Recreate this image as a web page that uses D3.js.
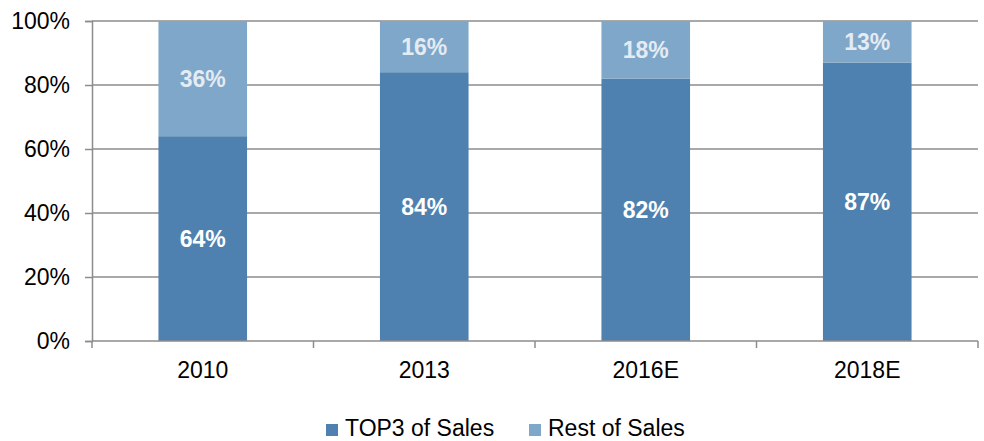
<!DOCTYPE html>
<html>
<head>
<meta charset="utf-8">
<script src="https://cdn.jsdelivr.net/npm/d3@7"></script>
<style>
  body { margin: 0; background: #fff; }
  text { font-family: "Liberation Sans", Arial, sans-serif; }
</style>
</head>
<body>
<div id="chart-area"></div>
<script>
const years = ["2010", "2013", "2016E", "2018E"];
const top3 = [64, 84, 82, 87];
const rest = [36, 16, 18, 13];
const yTicks = [0, 20, 40, 60, 80, 100];
const seriesNames = ["TOP3 of Sales", "Rest of Sales"];
const seriesColors = ["#4e81b0", "#7fa7c9"];

const W = 984, H = 441;
const MARGIN = { LEFT: 92, RIGHT: 6, TOP: 21, BOTTOM: 100 };
const WIDTH = W - MARGIN.LEFT - MARGIN.RIGHT;
const HEIGHT = H - MARGIN.TOP - MARGIN.BOTTOM;
const FONT = "23px";

const svg = d3.select("#chart-area").append("svg")
  .attr("width", W)
  .attr("height", H);

const g = svg.append("g")
  .attr("transform", `translate(${MARGIN.LEFT}, ${MARGIN.TOP})`);

const x = d3.scaleBand()
  .domain(years)
  .range([0, WIDTH])
  .paddingInner(0.6)
  .paddingOuter(0.3);

const y = d3.scaleLinear()
  .domain([0, 100])
  .range([HEIGHT, 0]);

// gridlines
g.append("g").selectAll("line").data(yTicks.filter(d => d > 0)).enter().append("line")
  .attr("x1", 0).attr("x2", WIDTH)
  .attr("y1", d => y(d)).attr("y2", d => y(d))
  .attr("stroke", "#8c8c8c")
  .attr("stroke-width", 1.5);

// y axis
const yAxisCall = d3.axisLeft(y)
  .tickValues(yTicks)
  .tickSize(7)
  .tickPadding(15)
  .tickFormat(d => d + "%");
const yAxis = g.append("g").call(yAxisCall);
yAxis.select(".domain").attr("stroke", "#8c8c8c").attr("stroke-width", 1.5);
yAxis.selectAll(".tick line").attr("stroke", "#8c8c8c").attr("stroke-width", 1.5);
yAxis.selectAll(".tick text")
  .attr("font-size", FONT)
  .attr("fill", "#000")
  .attr("font-family", "Liberation Sans, Arial, sans-serif");

// stacked data
const rows = years.map((yr, i) => ({ year: yr, top3: top3[i], rest: rest[i] }));
const stack = d3.stack().keys(["top3", "rest"])(rows);

const layers = g.selectAll(".layer").data(stack).enter().append("g")
  .attr("class", "layer")
  .attr("fill", (d, i) => seriesColors[i]);

layers.selectAll("rect").data(d => d).enter().append("rect")
  .attr("x", d => x(d.data.year))
  .attr("y", d => y(d[1]))
  .attr("width", x.bandwidth())
  .attr("height", d => y(d[0]) - y(d[1]));

layers.selectAll("text").data((d, i) => d.map(v => ({ v, key: d.key, i }))).enter().append("text")
  .attr("x", d => x(d.v.data.year) + x.bandwidth() / 2)
  .attr("y", d => (y(d.v[0]) + y(d.v[1])) / 2)
  .attr("dy", "0.36em")
  .attr("text-anchor", "middle")
  .attr("font-size", FONT)
  .attr("font-weight", "bold")
  .attr("fill", d => d.i === 0 ? "#ffffff" : "#e4ebf3")
  .text(d => d.v.data[d.key] + "%");

// x axis (baseline with ticks between categories)
const xg = g.append("g").attr("transform", `translate(0, ${HEIGHT})`);
xg.append("line")
  .attr("x1", 0).attr("x2", WIDTH)
  .attr("stroke", "#8c8c8c").attr("stroke-width", 1.5);
const bounds = d3.range(years.length + 1).map(i => i * WIDTH / years.length);
xg.selectAll(".xt").data(bounds).enter().append("line")
  .attr("x1", d => d).attr("x2", d => d)
  .attr("y1", 0).attr("y2", 7)
  .attr("stroke", "#8c8c8c").attr("stroke-width", 1.5);
xg.selectAll(".xl").data(years).enter().append("text")
  .attr("x", d => x(d) + x.bandwidth() / 2)
  .attr("y", 37)
  .attr("text-anchor", "middle")
  .attr("font-size", FONT)
  .attr("fill", "#000")
  .text(d => d);

// legend
const legendX = [326, 529];
const legend = svg.append("g");
seriesNames.forEach((name, i) => {
  legend.append("rect")
    .attr("x", legendX[i]).attr("y", 424)
    .attr("width", 12).attr("height", 12)
    .attr("fill", seriesColors[i]);
  legend.append("text")
    .attr("x", legendX[i] + 19).attr("y", 436)
    .attr("font-size", FONT)
    .attr("fill", "#000")
    .text(name);
});
</script>
</body>
</html>
